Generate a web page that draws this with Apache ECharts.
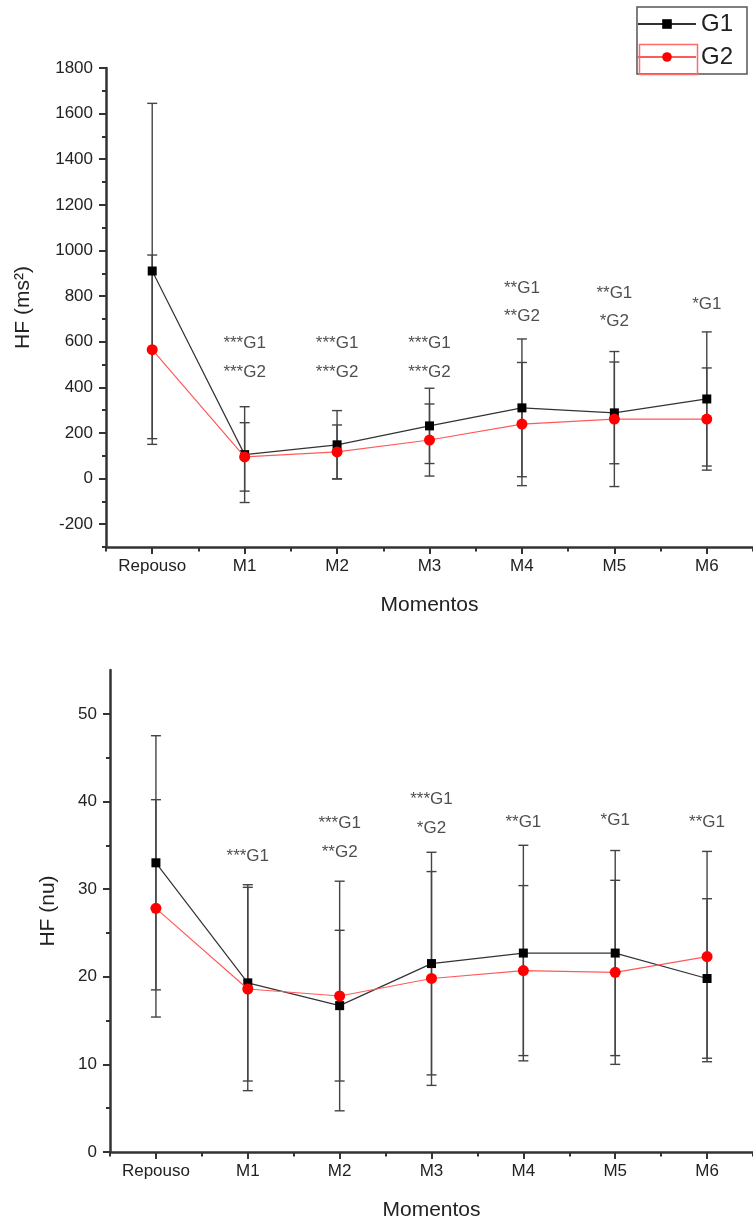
<!DOCTYPE html>
<html>
<head>
<meta charset="utf-8">
<script src="https://cdn.jsdelivr.net/npm/echarts@6/dist/echarts.min.js"></script>
<style>
html,body{margin:0;padding:0;background:#fff;}
#chart{width:753px;height:1223px;}
</style>
</head>
<body>
<div id="chart"></div>
<script>
// ---------- DATA ----------
const categories = ['Repouso', 'M1', 'M2', 'M3', 'M4', 'M5', 'M6'];

// Top panel: HF (ms²)
const topG1Mean = [910, 105, 148, 231, 310, 288, 349];
const topG1Sd   = [735, 210, 150, 165, 302, 223, 294];
const topG2Mean = [565, 95, 117, 169, 239, 261, 261];
const topG2Sd   = [415, 150, 118, 158, 270, 296, 224];
const topYTicks = [-200, 0, 200, 400, 600, 800, 1000, 1200, 1400, 1600, 1800];
const topYMinor = [-300, -100, 100, 300, 500, 700, 900, 1100, 1300, 1500, 1700];
const topNoteG1  = ['', '***G1', '***G1', '***G1', '**G1', '**G1', '*G1'];
const topNoteG1Y = [null, 595, 595, 595, 836, 814, 766];
const topNoteG2  = ['', '***G2', '***G2', '***G2', '**G2', '*G2', ''];
const topNoteG2Y = [null, 467, 467, 467, 713, 691, null];

// Bottom panel: HF (nu)
const botG1Mean = [33.0, 19.3, 16.7, 21.5, 22.7, 22.7, 19.8];
const botG1Sd   = [14.5, 11.2, 8.6, 12.7, 12.3, 11.7, 9.1];
const botG2Mean = [27.8, 18.6, 17.8, 19.8, 20.7, 20.5, 22.3];
const botG2Sd   = [12.4, 11.6, 13.1, 12.2, 9.7, 10.5, 12.0];
const botYTicks = [0, 10, 20, 30, 40, 50];
const botYMinor = [5, 15, 25, 35, 45];
const botNoteG1  = ['', '***G1', '***G1', '***G1', '**G1', '*G1', '**G1'];
const botNoteG1Y = [null, 33.7, 37.5, 40.2, 37.6, 37.8, 37.6];
const botNoteG2  = ['', '', '**G2', '*G2', '', '', ''];
const botNoteG2Y = [null, null, 34.2, 36.9, null, null, null];

// ---------- STYLE ----------
const FONT = 'Liberation Sans, Arial, sans-serif';
const TXT = '#222';
const AXIS = '#333';

function errData(means, sds) {
  return means.map((m, i) => [i, m - sds[i], m + sds[i]]);
}
function noteData(texts, ys) {
  const out = [];
  texts.forEach((t, i) => { if (t && ys[i] != null) out.push([i, ys[i], t]); });
  return out;
}
function errRender(params, api) {
  const i = api.value(0);
  const lo = api.coord([i, api.value(1)]);
  const hi = api.coord([i, api.value(2)]);
  const w = 5;
  const st = { stroke: '#444', lineWidth: 1.4 };
  return {
    type: 'group',
    children: [
      { type: 'line', shape: { x1: lo[0], y1: lo[1], x2: hi[0], y2: hi[1] }, style: st },
      { type: 'line', shape: { x1: lo[0] - w, y1: lo[1], x2: lo[0] + w, y2: lo[1] }, style: st },
      { type: 'line', shape: { x1: hi[0] - w, y1: hi[1], x2: hi[0] + w, y2: hi[1] }, style: st }
    ]
  };
}

function catAxes(gridIndex) {
  return [
    {
      type: 'category', gridIndex, data: categories, boundaryGap: true, position: 'bottom',
      axisLine: { show: true, onZero: false, lineStyle: { color: AXIS, width: 2.5 } },
      axisTick: { show: true, alignWithLabel: true, length: 7, lineStyle: { color: AXIS, width: 2 } },
      axisLabel: { color: TXT, fontSize: 17, fontFamily: FONT, margin: 11 },
      splitLine: { show: false },
      name: 'Momentos', nameLocation: 'middle', nameGap: 48,
      nameTextStyle: { color: TXT, fontSize: 21, fontFamily: FONT }
    },
    {
      type: 'category', gridIndex, data: categories, boundaryGap: true, position: 'bottom',
      axisLine: { show: false, onZero: false },
      axisTick: { show: true, alignWithLabel: false, length: 4.5, lineStyle: { color: AXIS, width: 2 } },
      axisLabel: { show: false },
      splitLine: { show: false }
    }
  ];
}
function valAxes(gridIndex, min, max, ticks, minor, name, nameGap) {
  return [
    {
      type: 'value', gridIndex, min, max, position: 'left',
      axisLine: { show: true, onZero: false, lineStyle: { color: AXIS, width: 2.5 } },
      axisTick: { show: true, customValues: ticks, length: 7, lineStyle: { color: AXIS, width: 2 } },
      axisLabel: { customValues: ticks, formatter: v => String(v), color: TXT, fontSize: 17, fontFamily: FONT, margin: 13 },
      splitLine: { show: false },
      name, nameLocation: 'middle', nameGap,
      nameTextStyle: { color: TXT, fontSize: 21, fontFamily: FONT }
    },
    {
      type: 'value', gridIndex, min, max, position: 'left',
      axisLine: { show: false, onZero: false },
      axisTick: { show: true, customValues: minor, length: 4, lineStyle: { color: AXIS, width: 2 } },
      axisLabel: { show: false },
      splitLine: { show: false }
    }
  ];
}

function panelSeries(xi, yi, g1m, g1s, g2m, g2s, n1, n1y, n2, n2y) {
  const noteLabel = {
    show: true, position: 'inside', formatter: p => p.data[2],
    color: TXT, fontSize: 17, fontFamily: FONT
  };
  return [
    { type: 'custom', xAxisIndex: xi, yAxisIndex: yi, renderItem: errRender, data: errData(g1m, g1s), z: 1, silent: true },
    { type: 'custom', xAxisIndex: xi, yAxisIndex: yi, renderItem: errRender, data: errData(g2m, g2s), z: 1, silent: true },
    {
      name: 'G1', type: 'line', xAxisIndex: xi, yAxisIndex: yi, data: g1m,
      symbol: 'rect', symbolSize: 9, z: 3,
      lineStyle: { color: '#333', width: 1.2 }, itemStyle: { color: '#000' }
    },
    {
      name: 'G2', type: 'line', xAxisIndex: xi, yAxisIndex: yi, data: g2m,
      symbol: 'circle', symbolSize: 11, z: 4,
      lineStyle: { color: '#ff5a5a', width: 1.2 }, itemStyle: { color: '#ff0000' }
    },
    { type: 'scatter', xAxisIndex: xi, yAxisIndex: yi, symbolSize: 0, data: noteData(n1, n1y), label: noteLabel, z: 5, silent: true },
    { type: 'scatter', xAxisIndex: xi, yAxisIndex: yi, symbolSize: 0, data: noteData(n2, n2y), label: noteLabel, z: 5, silent: true }
  ];
}

const chart = echarts.init(document.getElementById('chart'), null, { renderer: 'canvas' });
const option = {
  backgroundColor: '#fff',
  animation: false,
  grid: [
    { left: 106, top: 68, width: 649, height: 479 },
    { left: 110, top: 670, width: 651, height: 482 }
  ],
  legend: {
    data: ['G1', 'G2'],
    orient: 'vertical',
    right: 6, top: 7,
    padding: [5, 14, 5, 0],
    itemGap: 9,
    itemWidth: 58, itemHeight: 12,
    borderColor: '#555', borderWidth: 1.5,
    textStyle: { color: TXT, fontSize: 24, fontFamily: FONT }
  },
  graphic: [{
    type: 'rect', left: 637, top: 42, z: 100, silent: true,
    shape: { width: 58, height: 30 },
    style: { fill: 'none', stroke: '#ff6b6b', lineWidth: 1.5 }
  }],
  xAxis: [...catAxes(0), ...catAxes(1)],
  yAxis: [
    ...valAxes(0, -300, 1800, topYTicks, topYMinor, 'HF (ms²)', 72),
    ...valAxes(1, 0, 55, botYTicks, botYMinor, 'HF (nu)', 51)
  ],
  series: [
    ...panelSeries(0, 0, topG1Mean, topG1Sd, topG2Mean, topG2Sd, topNoteG1, topNoteG1Y, topNoteG2, topNoteG2Y),
    ...panelSeries(2, 2, botG1Mean, botG1Sd, botG2Mean, botG2Sd, botNoteG1, botNoteG1Y, botNoteG2, botNoteG2Y)
  ]
};
chart.setOption(option);
</script>
</body>
</html>
